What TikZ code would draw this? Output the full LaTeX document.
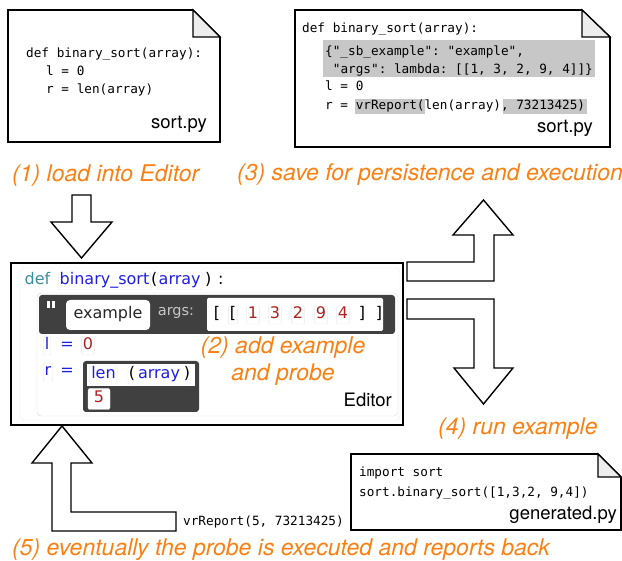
\documentclass[tikz,border=0pt]{standalone}
\usepackage{fontspec}
\setmainfont{TeX Gyre Heros}
\setmonofont{DejaVu Sans Mono}
\newfontfamily\edfont{DejaVu Sans}
\usetikzlibrary{positioning}

\definecolor{steporange}{RGB}{250,128,20}
\definecolor{kwteal}{RGB}{60,140,160}
\definecolor{nameblue}{RGB}{30,30,225}
\definecolor{numred}{RGB}{170,35,35}
\definecolor{blockgray}{RGB}{64,64,64}

\tikzset{
  doc/.style={draw, line width=1.6pt, fill=white, line join=miter},
  fold/.style={draw, line width=1.2pt, fill=black!7},
  bigarrow/.style={draw, line width=1.4pt, fill=white, line join=miter},
  steplabel/.style={text=steporange, font=\fontsize{23}{27}\selectfont\itshape, inner sep=0pt, anchor=base west},
  code/.style={font=\fontsize{12.7}{15}\selectfont\ttfamily, inner sep=0pt, anchor=base west},
  filename/.style={font=\fontsize{18.5}{22}\selectfont, inner sep=0pt, anchor=base east},
  tokplain/.style={font=\edfont\fontsize{16}{19}\selectfont, inner sep=1.5pt, text height=11.5pt, text depth=3.5pt},
  tok/.style={tokplain, draw=black!9, rounded corners=2pt, fill=white},
}

\begin{document}
\begin{tikzpicture}[x=1pt,y=-1pt]
    \useasboundingbox (0,0) rectangle (622,561);

    % sort.py (before)
    \draw[doc] (8,10) -- (193,10) -- (220,37) -- (220,142) -- (8,142) -- cycle;
    \draw[fold] (193,10) -- (193,37) -- (220,37) -- cycle;
    \node[code] (srcA1) at (26,58) {def binary\_sort(array):};
    \node[code] (srcA2) at (46,76) {l = 0};
    \node[code] (srcA3) at (46,94) {r = len(array)};
    \node[filename] (srcAname) at (207,129) {sort.py};

    % sort.py (saved)
    \draw[doc] (295,10) -- (582,10) -- (610,37) -- (610,147) -- (295,147) -- cycle;
    \draw[fold] (582,10) -- (582,37) -- (610,37) -- cycle;
    \fill[black!22] (323,40) rectangle (595,77);
    \fill[black!22] (355,99) rectangle (425,114);
    \fill[black!22] (503,99) rectangle (587,114);
    \node[code] (srcB1) at (302,33) {def binary\_sort(array):};
    \node[code] (srcB2) at (325,56) {\{"\_sb\_example": "example",};
    \node[code] (srcB3) at (332.7,74) {"args": lambda: [[1, 3, 2, 9, 4]]\}};
    \node[code] (srcB4) at (325,91) {l = 0};
    \node[code] (srcB5) at (325,110) {r = vrReport(len(array), 73213425)};
    \node[filename] (srcBname) at (593,133) {sort.py};

    % step labels
    \node[steplabel] (load) at (12,182) {(1) load into Editor};
    \node[steplabel] (save) at (237,181) {(3) save for persistence and execution};
    \node[steplabel] (run) at (438,435) {(4) run example};
    \node[steplabel] (report) at (12,555) {(5) eventually the probe is executed and reports back};

    % (1) arrow down into the editor
    \draw[bigarrow] (72,195) -- (91,195) -- (91,222) -- (112,222) -- (81.5,258)
        -- (51,222) -- (72,222) -- cycle;

    % editor
    \draw[line width=1.6pt] (11,263) rectangle (403,425);
    \draw[black!8, rounded corners=4pt] (20,268) rectangle (400,420);
    \draw[black!15, rounded corners=4pt] (37,293) rectangle (398,416);
    \node[tokplain, text=kwteal, anchor=west] (kwdef) at (23,281) {def};
    \node[tok, text=nameblue, anchor=west] (fname) at (58,281) {binary\_sort};
    \node[tokplain, anchor=west, inner sep=0pt] (lpar) at (151,281) {(};
    \node[tok, text=nameblue, anchor=west] (farg) at (157,281) {array};
    \node[tokplain, anchor=west, inner sep=0pt] (rpar) at (205,281) {)};
    \node[tokplain, anchor=west, inner sep=0pt] (colon) at (218,281) {:};

    % example block
    \fill[blockgray, rounded corners=3pt] (39,295) rectangle (395,334);
    \fill[white] (47,301) rectangle (50,308);
    \fill[white] (52,301) rectangle (55,308);
    \node[tokplain, fill=white, text=black!85, rounded corners=4pt,
        minimum width=84pt, minimum height=30pt] (exname) at (108,315) {example};
    \node[tokplain, text=black!22, font=\edfont\fontsize{14.5}{17}\selectfont] (argsl) at (176,312) {args:};
    \fill[white, rounded corners=1.5pt] (207,298) rectangle (383,331);
    \node[tokplain] (brA) at (217,315) {[};
    \node[tok] (brB) at (233,315) {[};
    \foreach \v/\x [count=\i] in {1/253,3/275,2/298,9/321,4/343}
        \node[tok, text=numred] (arg\i) at (\x,315) {\v};
    \node[tokplain] (brC) at (362,315) {]};
    \node[tokplain] (brD) at (379,315) {]};

    % l = 0
    \node[tok, text=nameblue] (lvar) at (47,346) {l};
    \node[tokplain, text=nameblue] (leq) at (67,346) {=};
    \node[tok, text=numred] (lval) at (88,346) {0};

    % r = probe
    \node[tok, text=nameblue] (rvar) at (48,372) {r};
    \node[tokplain, text=nameblue] (req) at (67,372) {=};
    \fill[blockgray, rounded corners=3pt] (83,361) rectangle (199,412);
    \fill[white] (87,364) rectangle (195,386);
    \node[tok, text=nameblue] (lenf) at (103.5,375) {len};
    \node[tok, minimum width=62pt] (lenarg) at (159,375) {};
    \node[tokplain, inner sep=0pt] (lenl) at (132,375) {(};
    \node[tokplain, text=nameblue, inner sep=0pt] (lena) at (159,375) {array};
    \node[tokplain, inner sep=0pt] (lenr) at (187,375) {)};
    \node[tok, text=numred, minimum width=22pt, minimum height=21pt] (probe) at (99,399) {5};

    \node[text=steporange, font=\fontsize{23}{27}\selectfont\itshape, inner sep=0pt, anchor=base] (addA) at (283,354) {(2) add example};
    \node[text=steporange, font=\fontsize{23}{27}\selectfont\itshape, inner sep=0pt, anchor=base] (addB) at (283,381) {and probe};
    \node[filename] (edname) at (392,407) {Editor};

    % (3) arrow up to the saved file
    \draw[bigarrow] (407,262) -- (474,262) -- (474,235) -- (453,235) -- (483.5,200)
        -- (513,235) -- (494,235) -- (494,281) -- (407,281) -- cycle;

    % (4) arrow down to the generated file
    \draw[bigarrow] (407,299) -- (494,299) -- (494,368) -- (513,368) -- (483.5,404)
        -- (454,368) -- (474,368) -- (474,319) -- (407,319) -- cycle;

    % generated.py
    \draw[doc] (351,454) -- (598,454) -- (621,477) -- (621,530) -- (351,530) -- cycle;
    \draw[fold] (598,454) -- (598,477) -- (621,477) -- cycle;
    \node[code] (genA) at (359,477) {import sort};
    \node[code] (genB) at (359,497) {sort.binary\_sort([1,3,2, 9,4])};
    \node[filename] (genname) at (617,520) {generated.py};

    % (5) arrow back up into the editor
    \draw[bigarrow] (62,426) -- (92,463) -- (71,463) -- (71,512) -- (176,512)
        -- (176,531) -- (52,531) -- (52,463) -- (32,463) -- cycle;
    \node[code] (vrcall) at (183,526) {vrReport(5, 73213425)};
\end{tikzpicture}
\end{document}
